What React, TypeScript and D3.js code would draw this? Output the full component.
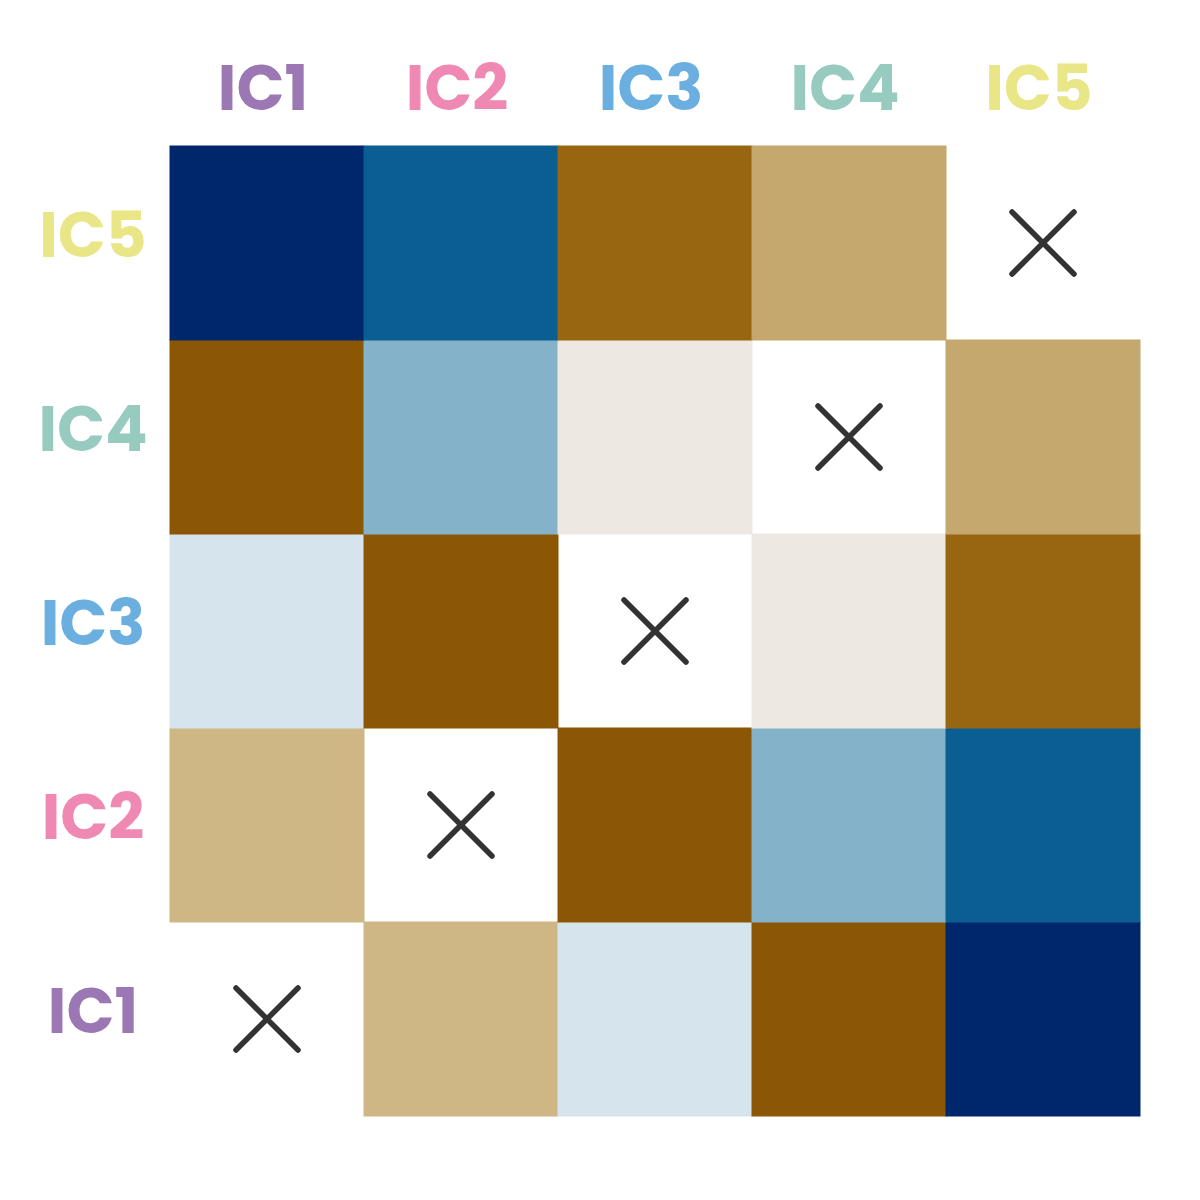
import * as d3 from 'd3';
import React from 'react';

// components and their label colours
const components = ['IC1', 'IC2', 'IC3', 'IC4', 'IC5'];
const labelColors = ['#9b77b4', '#ef88b3', '#6aafdf', '#98cbc0', '#e8e686'];

// pairwise correlations (upper triangle, symmetric)
const pairs: [string, string, number][] = [
    ['IC1', 'IC2', -0.42],
    ['IC1', 'IC3', 0.12],
    ['IC1', 'IC4', -0.95],
    ['IC1', 'IC5', 0.98],
    ['IC2', 'IC3', -0.95],
    ['IC2', 'IC4', 0.45],
    ['IC2', 'IC5', 0.8],
    ['IC3', 'IC4', -0.08],
    ['IC3', 'IC5', -0.8],
    ['IC4', 'IC5', -0.48],
];

// diverging colour map, brown -> pale -> navy
const stopValues = [-0.95, -0.8, -0.48, -0.42, -0.08, 0.12, 0.45, 0.8, 0.98];
const stopColors = ['#8c5704', '#986610', '#c5a86e', '#ceb685', '#ede8e1', '#d6e5ed', '#84b2c9', '#0b5e92', '#00266c'];

const App: React.FC = () => {
    const width = 1200, height = 1200;
    const margin = { top: 146, right: 60, bottom: 84, left: 170 };

    const x = d3.scaleBand().domain(components).range([margin.left, width - margin.right]);
    const y = d3.scaleBand().domain([...components].reverse()).range([margin.top, height - margin.bottom]);
    const color = d3.scaleLinear<string>().domain(stopValues).range(stopColors).clamp(true);

    const lookup = new Map<string, number>();
    pairs.forEach(([a, b, v]) => {
        lookup.set(`${a}|${b}`, v);
        lookup.set(`${b}|${a}`, v);
    });

    const cells = components.flatMap((row) => components.map((col) => ({ row, col, value: lookup.get(`${row}|${col}`) })));
    const bw = x.bandwidth();
    const crossHalf = 31;
    const font = "Poppins, Inter, 'Open Sans', sans-serif";

    return (
        <svg width={width} height={height} style={{ display: 'block', margin: -8 }}>
            <rect width={width} height={height} fill="#fff" />
            {cells.map((c) => {
                const cx = x(c.col)! + bw / 2;
                const cy = y(c.row)! + y.bandwidth() / 2;
                if (c.value === undefined) {
                    return (
                        <g key={c.row + c.col} stroke="#333" strokeWidth={5.5} strokeLinecap="round">
                            <line x1={cx - crossHalf} y1={cy - crossHalf} x2={cx + crossHalf} y2={cy + crossHalf} />
                            <line x1={cx - crossHalf} y1={cy + crossHalf} x2={cx + crossHalf} y2={cy - crossHalf} />
                        </g>
                    );
                }
                return (
                    <rect key={c.row + c.col} x={x(c.col)! - 0.5} y={y(c.row)! - 0.5} width={bw + 1} height={y.bandwidth() + 1}
                        fill={color(c.value)} />
                );
            })}
            {components.map((c, i) => (
                <text key={'top' + c} x={x(c)! + bw / 2 - 4} y={110} textAnchor="middle"
                    fill={labelColors[i]} fontFamily={font} fontWeight={700} fontSize={63}>{c}</text>
            ))}
            {components.map((c, i) => (
                <text key={'left' + c} x={93} y={y(c)! + y.bandwidth() / 2 + 14} textAnchor="middle"
                    fill={labelColors[i]} fontFamily={font} fontWeight={700} fontSize={63}>{c}</text>
            ))}
        </svg>
    );
};

export default App;
